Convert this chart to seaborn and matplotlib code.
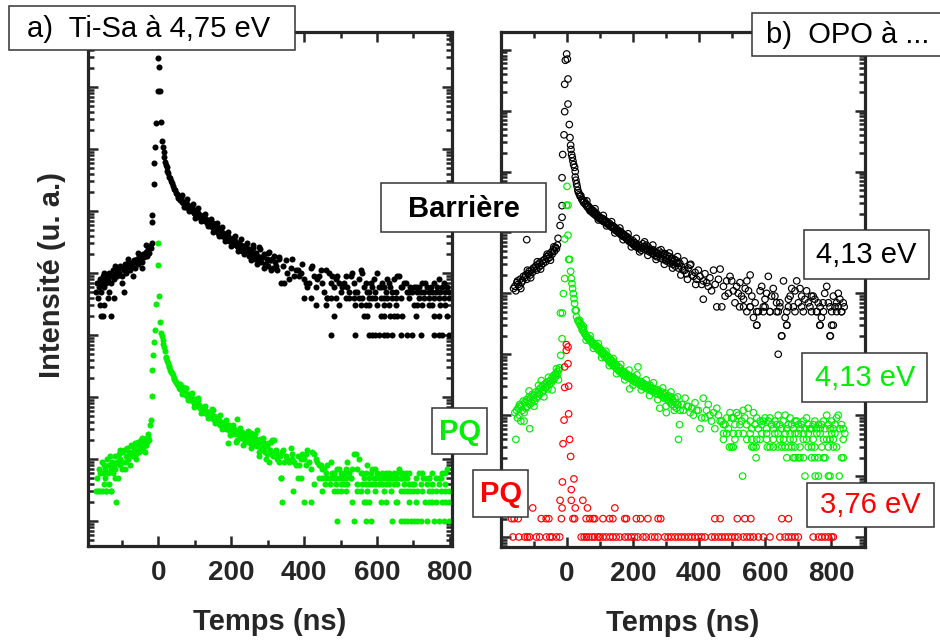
import numpy as np
import matplotlib
matplotlib.use('Agg')
import matplotlib.pyplot as plt
import seaborn as sns
from matplotlib.patches import Rectangle
from matplotlib.ticker import LogLocator, NullFormatter, MultipleLocator

sns.set_style('ticks')
plt.rcParams['font.family'] = ['Liberation Sans', 'DejaVu Sans']

GREEN = '#00ee00'
RED = '#ff0000'

# ---------------- data (time in ns, counts) ----------------
# panel a, barrier signal (black, shown x1000)
a_blk = [
    (-170, 5), (-167, 7), (-164, 6), (-161, 8), (-158, 5), (-155, 7), (-152, 9), (-149, 6), (-146, 8), (-143, 7),
    (-140, 9), (-137, 8), (-134, 10), (-131, 7), (-128, 9), (-125, 11), (-122, 8), (-119, 10), (-116, 12), (-113, 9),
    (-110, 11), (-107, 10), (-104, 13), (-101, 9), (-98, 12), (-95, 11), (-92, 14), (-89, 10), (-86, 13), (-83, 12),
    (-80, 15), (-77, 11), (-74, 14), (-71, 13), (-68, 16), (-65, 12), (-62, 15), (-59, 17), (-56, 14), (-53, 18),
    (-50, 16), (-47, 19), (-44, 15), (-41, 20), (-38, 18), (-35, 22), (-32, 19), (-29, 24), (-26, 21), (-23, 27),
    (-20, 25), (-18, 31),
    (-166, 4), (-160, 3), (-157, 2), (-153, 2), (-148, 3), (-139, 4), (-130, 2), (-121, 4), (-93, 5),
    (-17, 67), (-16, 86), (-13, 270), (-11, 600), (-8, 1090), (-7, 2650), (-2, 8500), (0, 29000), (2, 21000),
    (4, 8500), (7, 2750), (11, 1350),
    (13, 1090), (15, 900), (16, 750), (19, 625), (21, 560), (23, 520), (25, 450), (27, 405), (30, 360), (32, 335),
    (35, 300), (37, 280), (40, 250), (42, 225), (45, 215), (48, 195), (50, 185), (53, 175), (55, 165), (58, 170),
    (60, 150), (63, 160), (66, 140), (68, 135), (71, 140), (74, 125), (76, 118), (79, 130), (82, 112), (84, 120),
    (87, 105), (90, 117), (92, 100), (95, 108), (98, 94), (100, 88), (103, 98), (106, 85), (108, 92), (111, 80),
    (114, 87), (116, 76), (119, 82), (122, 72), (124, 78), (126, 76), (129, 68), (132, 74), (134, 64), (137, 70),
    (140, 60), (142, 66), (144, 60), (147, 56), (150, 63), (152, 52), (155, 58), (158, 50), (160, 55), (162, 49),
    (165, 45), (168, 52), (170, 42), (173, 48), (176, 40), (178, 45), (181, 41), (184, 37), (186, 43), (189, 35),
    (192, 39), (195, 33), (197, 36), (199, 34), (202, 31), (205, 37), (208, 29), (211, 33), (213, 28), (216, 31),
    (217, 27), (220, 26), (222, 30), (225, 24), (228, 28), (231, 23), (234, 27), (236, 25), (239, 21), (242, 26),
    (245, 22), (248, 19), (250, 24), (254, 22), (256, 18), (259, 25), (262, 20), (265, 17), (268, 21), (271, 19),
    (274, 16), (277, 26), (280, 18), (283, 15), (286, 18), (289, 20), (292, 14), (295, 14), (298, 17), (301, 13),
    (304, 22), (307, 16), (309, 16), (313, 17), (316, 12), (320, 15), (322, 13), (326, 11), (331, 18), (332, 17),
    (336, 7), (341, 13), (345, 7), (350, 16), (354, 10), (359, 8), (364, 12), (368, 17), (373, 9), (377, 11),
    (382, 11), (386, 9), (391, 10), (395, 14), (400, 8), (405, 7), (409, 6), (414, 7), (418, 12), (423, 13),
    (427, 9), (432, 6), (436, 8), (441, 9), (446, 11), (450, 7), (455, 5), (459, 11), (464, 4), (468, 10),
    (473, 7), (478, 9), (482, 6), (487, 8), (491, 9), (496, 7), (501, 5), (505, 6), (510, 7), (514, 9),
    (519, 6), (523, 5), (528, 9), (532, 10), (537, 7), (541, 5), (546, 5), (551, 8), (555, 11), (560, 10),
    (564, 6), (569, 7), (573, 5), (578, 5), (583, 7), (587, 6), (592, 8), (596, 5), (601, 10), (605, 6),
    (610, 6), (615, 7), (619, 6), (624, 5), (628, 8), (633, 7), (637, 6), (642, 5), (647, 8), (651, 5),
    (656, 9), (660, 9), (665, 6), (669, 6), (674, 7), (679, 7), (683, 5), (688, 5), (692, 6), (697, 5),
    (701, 6), (706, 6), (711, 5), (715, 6), (720, 5), (724, 7), (729, 5), (733, 7), (738, 6), (742, 5),
    (747, 6), (752, 5), (756, 7), (761, 5), (765, 6), (770, 8), (774, 5), (779, 6), (783, 7), (788, 5),
    (793, 6), (797, 5),
]
# points at the upper / lower edge of the noisy band
a_blk_edge = [
    (65, 180), (70, 118), (80, 155), (85, 100), (95, 130), (100, 78), (110, 110), (118, 68), (128, 90), (135, 58),
    (145, 75), (150, 46), (162, 63), (166, 40), (175, 55), (183, 33), (192, 46), (200, 27), (210, 40), (218, 23),
    (226, 35), (235, 20), (244, 31), (254, 16), (260, 28), (270, 14), (280, 24), (290, 12), (300, 21), (309, 11),
    (318, 19), (-150, 10), (-135, 5), (-118, 13), (-100, 7), (-82, 17), (-70, 9), (-55, 21), (-45, 12), (-33, 28),
]
# times of the points sitting on the low count levels 1..4
a_blk_lvl4 = [400, 418, 464, 473, 487, 514, 523, 537, 551, 560, 578, 587, 596, 610, 619, 628, 642, 651, 665,
              688, 715, 729, 742, 756, 770, 783, 797]
a_blk_lvl3 = [432, 459, 496, 541, 555, 569, 578, 601, 619, 633, 651, 701, 710, 724, 742, 751, 774, 788]
a_blk_lvl2 = [482, 564, 573, 610, 619, 637, 647, 656, 669, 706, 756, 770, 793]
a_blk_lvl1 = [473, 540, 578, 587, 596, 605, 619, 628, 642, 665, 683, 697, 720, 756, 770, 779, 797]

# panel a, quantum well signal (green)
a_grn = [
    (-172, 3), (-168, 5), (-165, 3), (-162, 7), (-160, 6), (-157, 3), (-155, 9), (-152, 6), (-150, 8), (-147, 5),
    (-145, 7), (-143, 3), (-141, 10), (-138, 6), (-136, 8), (-134, 4), (-131, 7), (-130, 3), (-128, 9), (-125, 6),
    (-122, 8), (-120, 11), (-118, 7), (-116, 2), (-114, 9), (-111, 5), (-109, 12), (-106, 8), (-104, 10), (-101, 7),
    (-99, 13), (-96, 9), (-93, 14), (-91, 7), (-88, 11), (-86, 15), (-83, 10), (-80, 13), (-78, 8), (-75, 12),
    (-72, 16), (-70, 11), (-67, 14), (-64, 18), (-62, 12), (-59, 15), (-56, 19), (-54, 13), (-51, 17), (-48, 20),
    (-46, 14), (-43, 18), (-40, 16), (-38, 21), (-35, 17), (-32, 22), (-30, 19), (-27, 23), (-25, 20),
    (-22, 35), (-21, 42), (-16, 105), (-16, 270), (-15, 475), (-13, 780), (-9, 1200), (-7, 3200), (-2, 13700),
    (0, 30000), (2, 4200), (5, 1600),
    (7, 1060), (10, 950), (12, 830), (14, 720), (16, 650), (18, 560), (20, 445), (22, 420), (24, 380), (26, 350),
    (28, 320), (30, 300), (33, 270), (35, 250), (37, 240), (39, 225), (42, 200), (44, 195), (46, 180), (48, 175),
    (51, 160), (53, 155), (56, 150), (58, 140), (60, 135), (62, 138), (65, 125), (67, 147), (70, 118), (72, 112),
    (74, 122), (76, 108), (79, 104), (81, 100), (84, 112), (86, 96), (88, 90), (90, 101), (93, 88), (95, 85),
    (97, 92), (99, 80), (102, 84), (104, 76), (106, 74), (108, 90), (111, 70), (113, 74), (115, 66), (118, 70),
    (120, 62), (122, 66), (125, 58), (126, 70), (129, 55), (131, 60), (133, 54), (135, 58), (138, 51), (140, 55),
    (142, 48), (145, 56), (147, 46), (149, 62), (151, 44), (154, 50), (156, 42), (158, 46), (160, 40), (162, 48),
    (165, 38), (167, 43), (170, 36), (172, 40), (174, 34), (177, 38), (179, 32), (181, 33), (184, 36), (186, 30),
    (188, 34), (190, 18), (192, 30), (195, 35), (197, 27), (199, 29), (202, 32), (204, 29), (206, 26), (209, 30),
    (211, 25), (213, 28), (215, 44), (217, 20), (220, 26), (222, 24), (224, 28), (227, 22), (229, 25), (231, 27),
    (234, 21), (236, 24), (238, 19), (240, 23), (243, 26), (245, 23), (247, 20), (249, 22), (252, 18), (254, 26),
    (256, 21), (258, 19), (261, 24), (263, 17), (265, 22), (268, 20), (270, 16), (272, 29), (274, 18), (277, 11),
    (279, 21), (281, 15), (284, 19), (286, 19), (288, 14), (290, 17), (293, 13), (295, 16), (297, 12), (299, 16),
    (302, 18), (304, 9), (306, 14), (309, 19), (311, 12), (313, 20), (316, 11), (318, 20), (320, 13), (322, 14),
    (325, 10), (327, 12), (330, 9), (334, 11), (336, 5), (339, 13), (341, 14), (345, 9), (350, 11), (354, 10),
    (359, 9), (364, 15), (368, 12), (368, 10), (373, 9), (377, 8), (382, 11), (386, 8), (391, 10), (395, 12),
    (400, 10), (405, 8), (405, 12), (409, 14), (414, 9), (418, 7), (423, 13), (427, 12), (432, 10), (436, 9),
    (441, 8), (446, 8), (450, 7), (455, 7), (459, 6), (464, 8), (468, 5), (473, 9), (478, 6), (482, 6),
    (487, 5), (491, 7), (496, 7), (501, 6), (505, 5), (510, 6), (514, 7), (519, 9), (523, 6), (528, 5),
    (532, 7), (537, 12), (542, 12), (546, 7), (551, 10), (555, 6), (560, 6), (564, 5), (569, 6), (573, 8),
    (578, 5), (583, 6), (587, 7), (592, 5), (596, 7), (601, 6), (605, 5), (610, 5), (615, 6), (619, 5),
    (624, 6), (628, 5), (633, 6), (637, 5), (642, 5), (647, 6), (651, 5), (656, 6), (660, 7), (665, 5),
    (669, 6), (674, 5), (679, 6), (683, 5), (688, 6), (697, 4), (706, 5), (715, 6), (724, 6), (733, 5),
    (743, 5), (752, 6), (761, 5), (770, 5), (779, 6), (788, 6), (793, 7),
]
a_grn_edge = [
    (60, 165), (66, 110), (75, 140), (82, 88), (92, 118), (98, 70), (110, 95), (116, 56), (128, 72), (136, 46),
    (148, 64), (155, 38), (168, 52), (175, 30), (185, 42), (196, 24), (205, 36), (214, 19), (225, 32), (233, 17),
    (245, 28), (255, 15), (265, 25), (275, 13), (288, 22), (296, 10), (-150, 4), (-133, 11), (-120, 5),
    (-105, 14), (-90, 9), (-76, 17), (-60, 10), (-45, 22), (-36, 13), (-28, 25),
]
a_grn_lvl5 = [336, 382, 391, 441, 450, 461, 473, 482, 496, 507, 516, 528, 596, 610, 628, 635, 644, 653, 665,
              677, 726, 743, 775]
a_grn_lvl4 = [426, 458, 471, 487, 501, 510, 519, 546, 560, 569, 578, 587, 596, 606, 615, 624, 633, 647, 656,
              674, 688, 701, 720, 737, 752, 770, 788]
a_grn_lvl3 = [-162, -152, -143, -130, 370, 449, 482, 491, 501, 514, 546, 555, 573, 596, 619, 638, 665, 674,
              683, 692, 699, 711, 724, 743, 752, 761, 775, 788, 797]
a_grn_lvl2 = [339, 400, 418, 531, 564, 571, 578, 610, 624, 651, 656, 688, 706, 733, 743, 752, 761, 779, 788, 797]
a_grn_lvl1 = [491, 537, 570, 584, 641, 666, 674, 682, 693, 701, 710, 721, 737, 756, 770, 784, 797]

# panel b, barrier at 4,13 eV (black, shown x1000)
b_blk = [
    (-162, 12), (-158, 13), (-155, 11), (-152, 15), (-148, 14), (-145, 13), (-142, 17), (-138, 15), (-135, 16),
    (-132, 19), (-128, 18), (-125, 20), (-122, 17), (-118, 21), (-115, 23), (-112, 20), (-108, 24), (-105, 22),
    (-102, 26), (-98, 25), (-95, 28), (-92, 24), (-88, 30), (-85, 27), (-82, 32), (-78, 29), (-75, 34), (-72, 31),
    (-68, 36), (-65, 33), (-62, 40), (-58, 37), (-55, 43), (-52, 39), (-48, 47), (-45, 44), (-42, 52), (-38, 49),
    (-35, 57), (-32, 54), (-29, 62), (-122, 76),
    (-27, 80), (-21, 130), (-15, 177), (-15, 275), (-15, 790), (-13, 1900), (-9, 4000), (-7, 9600), (-7, 27000),
    (-5, 67000), (-1, 85000), (1, 70000), (3, 33000), (3, 12800), (7, 5900), (9, 3600),
    (11, 2700), (12, 2300), (14, 1900), (16, 1700), (18, 1480), (20, 1300), (23, 1170), (25, 810), (25, 1000),
    (27, 720), (29, 630), (31, 560), (33, 490), (35, 450), (38, 420), (40, 390), (42, 400), (45, 350), (47, 340),
    (50, 310), (52, 330), (55, 290), (57, 300), (60, 270), (62, 260), (64, 275), (67, 240), (69, 255), (72, 225),
    (74, 235), (77, 210), (79, 230), (82, 200), (84, 215), (87, 190), (89, 205), (92, 180), (94, 190), (97, 170),
    (99, 178), (102, 165), (104, 172), (107, 155), (109, 168), (112, 150), (114, 160), (117, 145), (119, 152),
    (122, 138), (124, 146), (127, 132), (129, 140), (132, 125), (134, 130), (137, 120), (139, 128), (142, 115),
    (144, 122), (147, 108), (149, 116), (152, 104), (155, 108), (157, 100), (160, 95), (162, 104), (165, 90),
    (167, 97), (170, 86), (172, 92), (175, 84), (177, 88), (180, 79), (182, 85), (185, 76), (187, 72), (190, 78),
    (192, 70), (195, 69), (197, 66), (200, 73), (202, 62), (205, 68), (207, 60), (210, 64), (212, 57), (215, 58),
    (217, 62), (220, 54), (222, 60), (225, 51), (227, 56), (230, 65), (232, 58), (235, 58), (237, 52), (240, 62),
    (242, 54), (245, 50), (247, 57), (250, 48), (252, 53), (255, 50), (257, 46), (260, 52), (262, 44), (265, 49),
    (267, 42), (270, 47), (272, 40), (276, 45), (278, 50), (281, 43), (283, 38), (286, 46), (288, 41), (291, 36),
    (293, 44), (296, 45), (298, 39), (301, 34), (303, 42), (306, 37), (308, 33), (311, 40), (313, 31), (316, 35),
    (318, 38), (321, 30), (323, 33), (326, 36), (328, 28), (331, 31), (333, 34), (336, 31), (338, 26), (342, 31),
    (347, 27), (352, 24), (357, 24), (362, 21), (368, 26), (373, 29), (378, 20), (383, 19), (388, 22), (393, 17),
    (398, 24), (403, 19), (408, 14), (413, 16), (413, 8), (418, 21), (423, 15), (428, 13), (433, 18), (438, 11),
    (444, 24), (449, 14), (454, 6), (459, 17), (464, 25), (469, 6), (474, 13), (479, 9), (484, 16), (489, 10),
    (494, 19), (499, 16), (504, 11), (509, 7), (514, 13), (519, 10), (524, 15), (529, 9), (535, 8), (540, 12),
    (545, 16), (550, 11), (555, 20), (555, 6), (560, 9), (565, 4), (570, 7), (575, 3), (580, 5), (585, 11),
    (590, 13), (595, 6), (600, 8), (605, 10), (610, 19), (615, 5), (620, 9), (625, 12), (630, 9), (635, 7),
    (640, 5), (645, 7), (650, 2), (640, 1), (656, 16), (661, 4), (666, 3), (671, 8), (676, 9), (681, 12),
    (686, 6), (691, 11), (696, 16), (701, 7), (706, 12), (711, 9), (716, 5), (721, 8), (726, 11), (731, 7),
    (736, 6), (741, 9), (746, 9), (751, 8), (756, 5), (761, 7), (766, 3), (771, 4), (776, 7), (781, 10),
    (787, 13), (792, 7), (797, 2), (802, 3), (807, 9), (812, 6), (817, 7), (822, 10), (827, 8), (832, 5),
    (837, 7), (840, 6),
]
b_blk_edge = [
    (60, 330), (70, 225), (85, 245), (95, 160), (110, 190), (120, 128), (135, 150), (145, 98), (160, 118),
    (170, 76), (185, 95), (195, 58), (210, 80), (220, 48), (235, 70), (245, 42), (260, 62), (270, 36), (285, 52),
    (295, 30), (310, 46), (320, 26), (335, 40), (345, 20), (355, 34), (365, 17), (375, 30), (390, 14),
    (-150, 16), (-140, 12), (-120, 24), (-110, 18), (-90, 33), (-80, 25), (-60, 44), (-50, 35), (-40, 58),
]
b_blk_lvl6 = [523, 535, 555, 600, 645, 671, 711, 767, 797, 822]
b_blk_lvl5 = [545, 575, 595, 615, 635, 666, 691, 741, 757, 777, 802, 817, 832]
b_blk_lvl3 = [575, 666, 767, 807]
b_blk_lvl2 = [651, 798]

# panel b, quantum well at 4,13 eV (green, shown x10)
b_grn = [
    (-158, 11), (-155, 4), (-153, 12), (-150, 9), (-148, 13), (-145, 10), (-143, 15), (-140, 8), (-138, 14),
    (-135, 12), (-133, 17), (-130, 11), (-128, 16), (-125, 13), (-123, 18), (-120, 14), (-118, 17), (-115, 20),
    (-113, 6), (-113, 15), (-110, 19), (-108, 16), (-105, 22), (-103, 18), (-100, 21), (-98, 17), (-95, 24),
    (-93, 19), (-90, 23), (-88, 20), (-85, 26), (-83, 22), (-80, 28), (-78, 37), (-75, 24), (-73, 30), (-70, 26),
    (-68, 32), (-65, 28), (-63, 34), (-60, 30), (-58, 27), (-55, 36), (-53, 32), (-50, 37), (-48, 34), (-45, 42),
    (-43, 37), (-40, 45), (-38, 40), (-35, 48), (-33, 44), (-30, 52), (-28, 47), (-25, 55), (-23, 60),
    (-19, 96), (-15, 180), (-20, 475), (-14, 475), (-11, 990), (-7, 1750), (-7, 7800), (-2, 28000), (0, 57000),
    (3, 28000), (3, 9000), (5, 3600), (8, 3600),
    (11, 2300), (13, 1750), (15, 1440), (17, 1200), (19, 990), (21, 820), (23, 680), (25, 525), (28, 525),
    (29, 410), (33, 360), (35, 340), (38, 360), (40, 300), (42, 320), (44, 280), (46, 250), (48, 265), (50, 240),
    (53, 220), (55, 220), (57, 205), (60, 195), (62, 190), (64, 185), (66, 175), (68, 180), (70, 165), (72, 170),
    (74, 160), (76, 155), (78, 145), (80, 150), (82, 150), (85, 138), (87, 142), (89, 130), (91, 135), (94, 125),
    (96, 116), (98, 128), (100, 112), (103, 118), (105, 105), (107, 110), (109, 100), (112, 106), (114, 90),
    (116, 98), (118, 92), (121, 86), (123, 94), (125, 80), (127, 88), (130, 76), (132, 82), (134, 70), (137, 78),
    (139, 66), (141, 72), (143, 64), (146, 70), (148, 60), (150, 66), (152, 57), (155, 55), (157, 62), (159, 52),
    (162, 58), (164, 50), (166, 54), (168, 47), (171, 52), (173, 45), (175, 50), (178, 43), (180, 48), (182, 46),
    (185, 41), (187, 44), (190, 27), (192, 40), (195, 42), (197, 38), (199, 43), (201, 36), (204, 40), (206, 35),
    (208, 39), (211, 34), (213, 37), (215, 62), (217, 33), (220, 35), (222, 31), (224, 36), (227, 30), (229, 34),
    (231, 33), (234, 29), (236, 32), (238, 28), (241, 31), (243, 27), (245, 30), (247, 29), (250, 26), (252, 31),
    (255, 27), (257, 25), (259, 28), (262, 24), (264, 26), (266, 27), (269, 23), (271, 25), (274, 22), (276, 26),
    (278, 24), (281, 13), (283, 23), (285, 21), (288, 24), (290, 20), (292, 22), (295, 19), (297, 23), (299, 20),
    (301, 11), (304, 18), (306, 21), (308, 17), (311, 19), (313, 16), (316, 20), (318, 15), (320, 18), (322, 17),
    (325, 14), (327, 19), (329, 16), (332, 13), (334, 15), (336, 15), (338, 4), (341, 7), (343, 12), (348, 15),
    (352, 12), (358, 19), (363, 14), (368, 14), (373, 11), (378, 13), (383, 10), (388, 16), (393, 12), (398, 12),
    (403, 6), (408, 9), (413, 19), (418, 9), (423, 12), (428, 15), (433, 10), (438, 8), (444, 11), (448, 6),
    (454, 13), (459, 10), (464, 8), (469, 8), (474, 7), (479, 7), (484, 9), (489, 6), (494, 11), (499, 9),
    (504, 9), (509, 7), (514, 11), (519, 10), (524, 7), (529, 8), (534, 12), (539, 9), (544, 7), (549, 13),
    (555, 8), (560, 6), (565, 11), (570, 7), (575, 9), (580, 6), (585, 8), (590, 7), (595, 8), (600, 9),
    (605, 6), (610, 8), (615, 9), (620, 7), (625, 6), (630, 8), (635, 7), (640, 10), (645, 7), (650, 6),
    (655, 8), (661, 10), (666, 6), (671, 7), (676, 9), (681, 7), (686, 6), (691, 8), (696, 8), (701, 7),
    (706, 6), (711, 7), (716, 8), (721, 6), (726, 9), (731, 7), (736, 6), (741, 6), (746, 7), (751, 8),
    (756, 6), (762, 7), (767, 6), (772, 7), (777, 8), (782, 6), (787, 10), (792, 7), (797, 6), (802, 8),
    (807, 6), (812, 7), (817, 9), (822, 10), (827, 6), (832, 7), (837, 6), (842, 5),
]
b_grn_edge = [
    (50, 285), (58, 170), (70, 200), (80, 125), (95, 150), (105, 88), (118, 112), (128, 65), (140, 85), (150, 48),
    (163, 68), (175, 38), (188, 55), (200, 31), (212, 46), (225, 26), (240, 38), (250, 21), (262, 34), (275, 18),
    (290, 28), (300, 14), (315, 24), (325, 12), (335, 20), (-145, 14), (-130, 8), (-115, 25), (-100, 14),
    (-86, 31), (-70, 20), (-56, 42), (-45, 26), (-32, 58), (-26, 38),
]
b_grn_lvl5 = [474, 484, 504, 519, 534, 555, 590, 605, 630, 640, 661, 676, 691, 701, 716, 731, 757, 767, 802, 812]
b_grn_lvl4 = [474, 509, 545, 560, 575, 585, 605, 625, 645, 656, 676, 686, 716, 726, 746, 777, 787, 797, 807, 837]
b_grn_lvl3 = [492, 499, 504, 560, 565, 573, 607, 615, 625, 640, 651, 661, 671, 681, 691, 706, 731, 741, 751,
              772, 792, 807, 817]
b_grn_lvl2 = [573, 666, 686, 691, 701, 706, 716, 741, 751, 762, 777, 782, 832, 837]
b_grn_lvl1 = [532, 721, 752, 762, 792, 797, 825]

# panel b, quantum well at 3,76 eV (red)
b_red = [
    (-2, 1440), (3, 1320), (-2, 1160), (3, 700), (-7, 620), (5, 300), (-7, 285), (5, 105), (-9, 83), (8, 40),
    (-12, 34), (11, 21), (21, 9), (-14, 8), (13, 6), (-21, 4), (13, 4), (48, 4), (-15, 3), (25, 3), (62, 3),
    (145, 3), (-104, 3),
]
b_red_lvl2 = [-168, -160, -148, -78, -63, -55, -17, 18, 23, 58, 69, 79, 84, 109, 129, 139, 175, 180, 210, 223,
              245, 276, 284, 448, 464, 516, 539, 557, 651, 671]
b_red_lvl1 = [-164, -146, -128, -120, -113, -93, -83, -63, -52, -45, -32, -22, 43, 52, 59, 66, 76, 84, 94, 99,
              109, 119, 130, 139, 149, 160, 175, 185, 195, 205, 215, 230, 240, 255, 266, 276, 296, 306, 316, 327,
              337, 347, 357, 368, 378, 388, 398, 408, 418, 438, 448, 459, 469, 479, 489, 499, 509, 519, 534, 545,
              555, 565, 580, 595, 615, 645, 661, 671, 681, 691, 701, 746, 762, 772, 782, 792, 802, 807]

x_ticks = [0, 200, 400, 600, 800]


def build(points, levels):
    # points = (t, counts) pairs, levels = {count: [times]}
    t = [p[0] for p in points]
    n = [p[1] for p in points]
    for lvl, times in levels.items():
        t += times
        n += [lvl] * len(times)
    return np.array(t, float), np.array(n, float)


fig = plt.figure(figsize=(9.4, 6.42), dpi=100)
W, H = 940, 642
ax_a = fig.add_axes([88 / W, 1 - 546 / H, 364 / W, 514 / H])
ax_b = fig.add_axes([501 / W, 1 - 547 / H, 364 / W, 515 / H])

# panel a: filled dots
t, n = build(a_blk + a_blk_edge, {4: a_blk_lvl4, 3: a_blk_lvl3, 2: a_blk_lvl2, 1: a_blk_lvl1})
sns.scatterplot(x=t, y=n * 1000, ax=ax_a, color='black', s=19, linewidth=0)
t, n = build(a_grn + a_grn_edge, {5: a_grn_lvl5, 4: a_grn_lvl4, 3: a_grn_lvl3, 2: a_grn_lvl2, 1: a_grn_lvl1})
sns.scatterplot(x=t, y=n, ax=ax_a, color=GREEN, s=19, linewidth=0)

# panel b: open circles
t, n = build(b_blk + b_blk_edge, {6: b_blk_lvl6, 5: b_blk_lvl5, 3: b_blk_lvl3, 2: b_blk_lvl2})
sns.scatterplot(x=t, y=n * 1000, ax=ax_b, facecolors='none', edgecolor='black', s=22, linewidth=0.85)
t, n = build(b_grn + b_grn_edge, {5: b_grn_lvl5, 4: b_grn_lvl4, 3: b_grn_lvl3, 2: b_grn_lvl2, 1: b_grn_lvl1})
sns.scatterplot(x=t, y=n * 10, ax=ax_b, facecolors='none', edgecolor=GREEN, s=22, linewidth=0.85)
t, n = build(b_red, {2: b_red_lvl2, 1: b_red_lvl1})
sns.scatterplot(x=t, y=n, ax=ax_b, facecolors='none', edgecolor=RED, s=22, linewidth=0.85)

ax_a.set_xlim(-193, 806)
ax_a.set_yscale('log')
ax_a.set_ylim(10 ** -0.403, 10 ** 7.887)
ax_b.set_xlim(-200, 903)
ax_b.set_yscale('log')
ax_b.set_ylim(10 ** -0.164, 10 ** 8.29)

for ax in (ax_a, ax_b):
    ax.set_xticks(x_ticks, labels=[str(v) for v in x_ticks], fontsize=20, fontweight='bold')
    ax.xaxis.set_minor_locator(MultipleLocator(100))
    ax.yaxis.set_major_locator(LogLocator(base=10, numticks=30))
    ax.yaxis.set_minor_locator(LogLocator(base=10, subs=np.arange(2, 10), numticks=30))
    ax.yaxis.set_major_formatter(NullFormatter())
    ax.yaxis.set_minor_formatter(NullFormatter())
    ax.tick_params(which='both', direction='in', top=True, right=True, width=1.8)
    ax.tick_params(which='major', length=7)
    ax.tick_params(which='minor', length=4)
    ax.tick_params(axis='x', which='major', pad=10)
    for sp in ax.spines.values():
        sp.set_linewidth(2.3)
    ax.set_xlabel('Temps (ns)', fontsize=21, fontweight='bold', labelpad=16)
    ax.set_ylabel('')

fig.text(52 / W, 1 - 275 / H, 'Intensité (u. a.)', rotation=90, fontsize=21, fontweight='bold',
         ha='center', va='center')


def label_box(x0, y0, x1, y1, text, tx, ty, color='black', weight='normal', ha='center'):
    fig.add_artist(Rectangle((x0 / W, 1 - y1 / H), (x1 - x0) / W, (y1 - y0) / H, transform=fig.transFigure,
                             facecolor='white', edgecolor='#333333', linewidth=1.1, zorder=5))
    fig.text(tx / W, 1 - ty / H, text, color=color, fontsize=21, fontweight=weight, ha=ha, va='center', zorder=6)


label_box(9, 6, 295, 50, 'a)  Ti-Sa à 4,75 eV', 27, 29, ha='left')
label_box(752, 13, 960, 56, 'b)  OPO à ...', 766, 35, ha='left')
label_box(381, 183, 546, 232, 'Barrière', 464, 209, weight='bold')
label_box(804, 230, 929, 279, '4,13 eV', 866, 255)
label_box(802, 353, 927, 402, '4,13 eV', 865, 378, color=GREEN)
label_box(807, 483, 934, 527, '3,76 eV', 870, 505, color=RED)
label_box(432, 408, 487, 454, 'PQ', 460, 432, color=GREEN, weight='bold')
label_box(473, 470, 528, 517, 'PQ', 501, 494, color=RED, weight='bold')

fig.savefig('out.png', dpi=100)
